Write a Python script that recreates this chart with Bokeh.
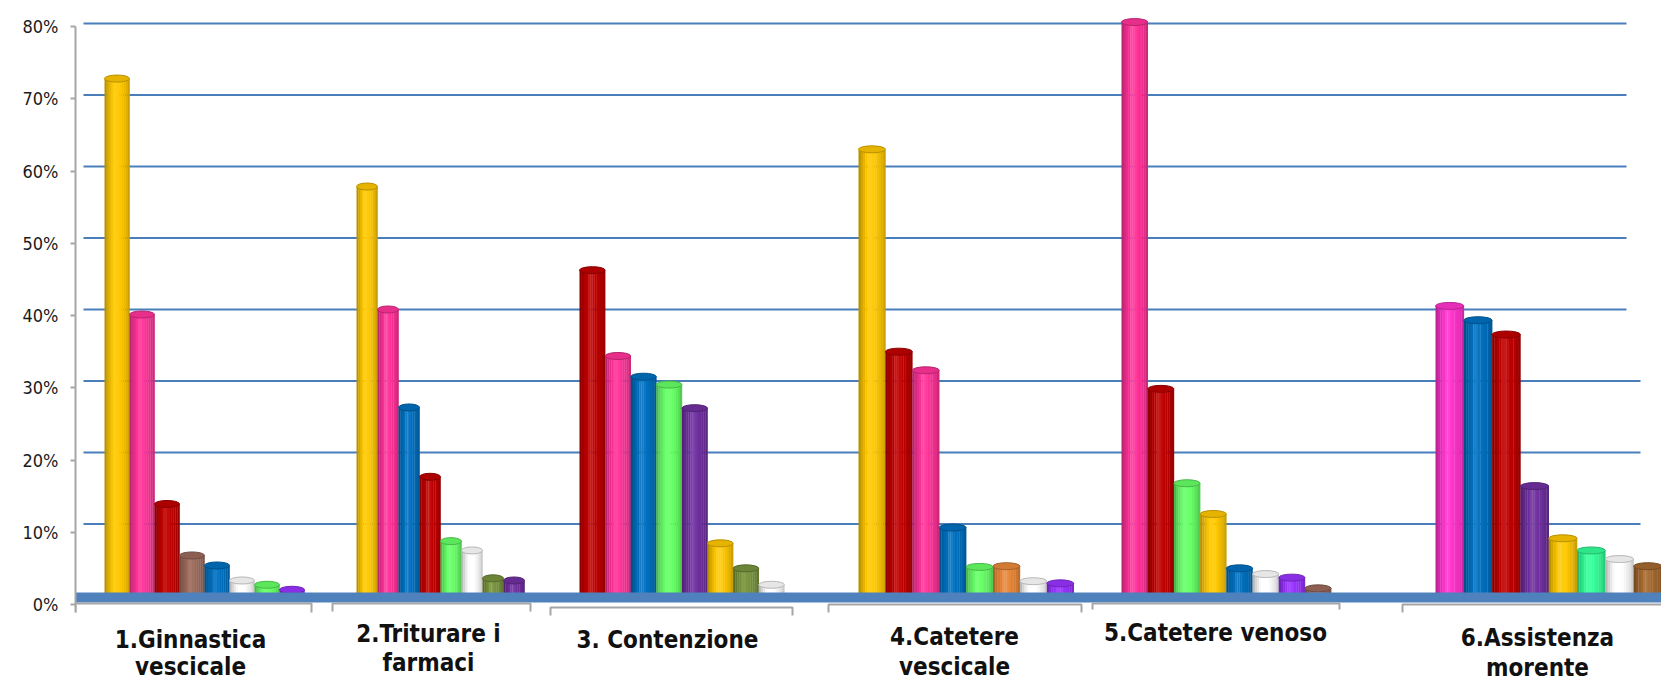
from bokeh.plotting import figure
from bokeh.models import Range1d, LinearAxis, FixedTicker, ColumnDataSource
from bokeh.core.properties import value
from bokeh.embed import file_html
from bokeh.resources import INLINE

# ---- data -------------------------------------------------------------
categories = [
    "1.Ginnastica\nvescicale",
    "2.Triturare i\nfarmaci",
    "3. Contenzione",
    "4.Catetere\nvescicale",
    "5.Catetere venoso",
    "6.Assistenza\nmorente",
]

ginnastica_vescicale = [72.3, 39.3, 12.8, 5.6, 4.2, 2.1, 1.5, 0.8]
triturare_farmaci = [57.2, 40.0, 26.3, 16.6, 7.6, 6.3, 2.4, 2.1]
contenzione = [45.5, 33.5, 30.6, 29.5, 26.2, 7.3, 3.8, 1.5]
catetere_vescicale = [62.4, 34.1, 31.5, 9.5, 4.0, 4.1, 2.0, 1.7]
catetere_venoso = [80.2, 28.9, 15.7, 11.4, 3.8, 3.0, 2.5, 1.0]
assistenza_morente = [40.5, 38.5, 36.5, 15.3, 8.0, 6.3, 5.1, 4.1]

y_ticks = [0, 10, 20, 30, 40, 50, 60, 70, 80]

# ---- colours ----------------------------------------------------------
PAL = {
    "yellow": "#FFC800", "pink": "#FF3399", "red": "#C00000", "brown": "#9C6A5B",
    "blue": "#0070C0", "white": "#FFFFFF", "green": "#66FF66", "violet": "#9933FF",
    "olive": "#77933C", "purple": "#7030A0", "orange": "#E8883A",
    "magenta": "#FF33CC", "teal": "#33FF99", "tan": "#A5692F",
}
group_colors = [
    ["yellow", "pink", "red", "brown", "blue", "white", "green", "violet"],
    ["yellow", "pink", "blue", "red", "green", "white", "olive", "purple"],
    ["red", "pink", "blue", "green", "purple", "yellow", "olive", "white"],
    ["yellow", "red", "pink", "blue", "green", "orange", "white", "violet"],
    ["pink", "red", "green", "yellow", "blue", "white", "violet", "brown"],
    ["magenta", "blue", "red", "purple", "yellow", "teal", "white", "tan"],
]
groups = [ginnastica_vescicale, triturare_farmaci, contenzione,
          catetere_vescicale, catetere_venoso, assistenza_morente]

# ---- layout (pixel-like units on the x axis) ---------------------------
W, H = 1661, 685
FRAME_LEFT = 75
ZERO_PX, PX_PER = 595.0, 7.15          # value scale of the bars / grid
LAB_ZERO, LAB_PER = 604.0, 7.225       # value scale of the front axis
group_left = [104, 356, 579, 858, 1121, 1435]
bar_width = [25.0, 21.0, 25.6, 26.9, 26.2, 28.3]
label_x = [190, 428, 667, 954, 1215, 1537]
label_base1 = [639, 633, 639, 636, 632, 637]
label_base2 = [666, 662, None, 666, None, 667]
grid_end = {80: 1626, 70: 1626, 60: 1626, 50: 1626, 40: 1626, 30: 1640, 20: 1640, 10: 1640}
brackets_x = [[75, 75, 311, 311], [332, 332, 530, 530], [550, 550, 792, 792],
              [828, 828, 1081, 1081], [1092, 1092, 1339, 1339], [1402, 1402, 1661]]
brackets_y = [[612, 603, 603, 612], [611, 603, 603, 611], [615, 607, 607, 615],
              [612, 604, 604, 612], [609, 603, 603, 609], [612, 604, 604]]

FONT = "DejaVu Sans Condensed, DejaVu Sans"


def hex_rgb(h):
    h = h.lstrip("#")
    return [int(h[i:i + 2], 16) for i in (0, 2, 4)]


def shade(h, f):
    r, g, b = hex_rgb(h)
    if f <= 1:
        r, g, b = r * f, g * f, b * f
    else:
        a = min(1.0, (f - 1) * 2.2)
        r, g, b = r + (255 - r) * a, g + (255 - g) * a, b + (255 - b) * a
    return "#%02x%02x%02x" % (int(round(r)), int(round(g)), int(round(b)))


def profile(t):
    pts = [(0.0, 0.68), (0.15, 0.86), (0.4, 1.06), (0.6, 1.0), (0.85, 0.9), (1.0, 0.76)]
    for (t0, f0), (t1, f1) in zip(pts, pts[1:]):
        if t <= t1:
            return f0 + (f1 - f0) * (t - t0) / (t1 - t0)
    return pts[-1][1]


p = figure(
    width=W, height=H,
    x_range=Range1d(FRAME_LEFT, W),
    y_range=Range1d(-(H - ZERO_PX) / PX_PER, ZERO_PX / PX_PER),
    output_backend="svg", toolbar_location=None,
    x_axis_location=None, y_axis_location=None,
    min_border_left=FRAME_LEFT, min_border_right=0,
    min_border_top=0, min_border_bottom=0,
    outline_line_color=None, background_fill_color="white",
)
p.grid.visible = False
p.extra_y_ranges = {
    "lab": Range1d(-(H - LAB_ZERO) / LAB_PER, LAB_ZERO / LAB_PER),
    "px": Range1d(H, 0),
}

# back-wall grid lines
gv = [v for v in y_ticks if v > 0]
p.segment(x0=[83] * len(gv), x1=[grid_end[v] for v in gv], y0=gv, y1=gv,
          line_color="#4A7EBB", line_width=2)

# cylinder bodies as shaded vertical strips, plus top ellipses
N = 12
sl, sr, st, sc = [], [], [], []
ex, ey, ew, ef, el = [], [], [], [], []
for gi, (vals, cols) in enumerate(zip(groups, group_colors)):
    bw = bar_width[gi]
    for bi, (v, cname) in enumerate(zip(vals, cols)):
        base = PAL[cname]
        x0 = group_left[gi] + bi * bw
        for s in range(N):
            t = (s + 0.5) / N
            sl.append(x0 + s * bw / N)
            sr.append(x0 + (s + 1) * bw / N + 0.3)
            st.append(v)
            sc.append(shade(base, profile(t)))
        ex.append(x0 + bw / 2)
        ey.append(v)
        ew.append(bw)
        ef.append(shade(base, 0.9))
        el.append(shade(base, 0.72))

p.quad(source=ColumnDataSource(dict(left=sl, right=sr, top=st, bottom=[0] * len(st), c=sc)),
       left="left", right="right", top="top", bottom="bottom",
       fill_color="c", line_color=None)
p.ellipse(source=ColumnDataSource(dict(x=ex, y=ey, w=ew, f=ef, l=el)),
          x="x", y="y", width="w", height=7, height_units="screen",
          fill_color="f", line_color="l", line_width=1)

# floor slab
p.quad(left=[FRAME_LEFT], right=[W], top=[592], bottom=[602], y_range_name="px",
       fill_color="#4F81BD", line_color=None)

# category brackets under the floor
p.multi_line(xs=brackets_x, ys=brackets_y, y_range_name="px",
             line_color="#A6A6A6", line_width=2)

# category labels
l1x, l1y, l1t, l2x, l2y, l2t = [], [], [], [], [], []
for cat, x, b1, b2 in zip(categories, label_x, label_base1, label_base2):
    parts = cat.split("\n")
    l1x.append(x); l1y.append(b1); l1t.append(parts[0])
    if len(parts) > 1:
        l2x.append(x); l2y.append(b2); l2t.append(parts[1])
for xs, ys, ts in ((l1x, l1y, l1t), (l2x, l2y, l2t)):
    p.text(x=xs, y=ys, text=ts, y_range_name="px",
           text_font=value(FONT), text_font_size="24px", text_font_style="bold",
           text_align="center", text_baseline="alphabetic", text_color="#111111")

# value axis
ax = LinearAxis(
    y_range_name="lab",
    ticker=FixedTicker(ticks=y_ticks),
    major_label_overrides={v: f"{v}%" for v in y_ticks},
    bounds=(-1.1, 80),
    axis_line_color="#A6A6A6", axis_line_width=2,
    major_tick_line_color="#A6A6A6", major_tick_line_width=2,
    major_tick_in=0, major_tick_out=5,
    minor_tick_line_color=None,
    major_label_standoff=12,
    major_label_text_font=FONT,
    major_label_text_font_size="18px",
    major_label_text_color="#1a1a1a",
)
p.add_layout(ax, "left")

open("out.html", "w").write(file_html(p, INLINE))
